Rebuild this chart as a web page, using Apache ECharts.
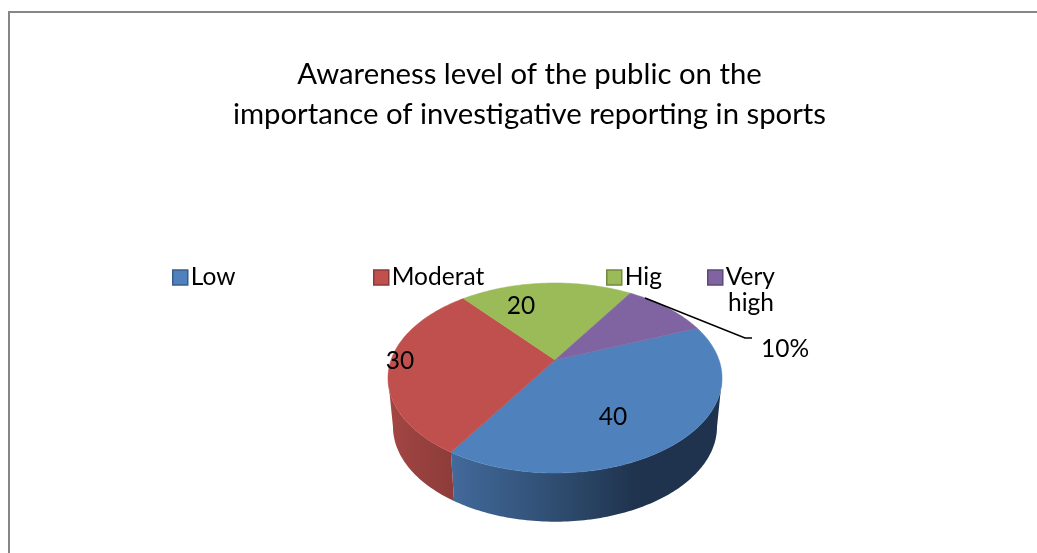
<!DOCTYPE html>
<html><head><meta charset="utf-8">
<style>html,body{margin:0;padding:0;background:#fff}#c{width:1037px;height:553px}</style>
<script src="https://cdn.jsdelivr.net/npm/echarts@6/dist/echarts.min.js"></script>
</head><body><div id="c"></div>
<script>
const titleLines = ['Awareness level of the public on the', 'importance of investigative reporting in sports'];
const categories = ['Low', 'Moderat', 'Hig', 'Very high'];
const values = [40, 30, 20, 10];
const valueLabels = ['40', '30', '20', '10%'];
const faceColors = ['#4F81BD', '#C0504D', '#9BBB59', '#8064A2'];
const borderColors = ['#385D8A', '#8C3836', '#71893F', '#5C4776'];

const FONT = 'Lato, Carlito, Calibri, sans-serif';
const START = 68.2, CX = 555, VY = 360, C = 0.1895, A = 91.6, D = 164, DEPTH = 48.7, BOTTOM_SCALE = 0.97;
const total = values.reduce((a, b) => a + b, 0);
const LEFT_T = 259.1, RIGHT_T = 100.9;

function topRim(t) {
  const r = t * Math.PI / 180, X = Math.sin(r), Y = Math.cos(r), w = 1 + C * Y;
  return [CX + D * X / w, VY - A * Y / w];
}
function bottomRim(t) {
  const p = topRim(t);
  return [CX + (p[0] - CX) * BOTTOM_SCALE, p[1] + DEPTH];
}
function arc(fn, a, b) {
  const n = Math.max(2, Math.ceil(Math.abs(b - a))), pts = [];
  for (let i = 0; i <= n; i++) pts.push(fn(a + (b - a) * i / n));
  return pts;
}
function sliceRange(i) {
  let a = START;
  for (let k = 0; k < i; k++) a += values[k] / total * 360;
  return [a, a + values[i] / total * 360];
}
const blueWall = [[0, '#426a9c'], [0.45, '#2c4869'], [0.68, '#1f334e'], [1, '#1f334e']];
const redWall = [[0, '#a34643'], [1, '#8c3c3a']];
function renderSlice(params) {
  const i = params.seriesIndex, r = sliceRange(i), kids = [];
  const a = Math.max(r[0], RIGHT_T), b = Math.min(r[1], LEFT_T);
  if (b > a) {
    const tp = arc(topRim, a, b), bt = arc(bottomRim, a, b).reverse();
    const stops = (i === 0 ? blueWall : redWall).map(s => ({ offset: s[0], color: s[1] }));
    kids.push({
      type: 'polygon', shape: { points: tp.concat(bt) },
      style: { fill: new echarts.graphic.LinearGradient(0, 0, 1, 0, stops) }
    });
  }
  return { type: 'group', children: kids.concat([{
    type: 'polygon', shape: { points: [[CX, VY]].concat(arc(topRim, r[0], r[1])) },
    style: { fill: faceColors[i], stroke: faceColors[i], lineWidth: 0.5 }
  }]) };
}
const labelSpots = [[613, 417], [400, 361], [521, 306], [785, 349]];
const legendSpots = [167, 368, 601, 702];

const chart = echarts.init(document.getElementById('c'), null, { renderer: 'canvas' });
chart.setOption({
  animation: false,
  backgroundColor: '#fff',
  legend: categories.map((name, i) => ({
    left: legendSpots[i], top: 260, orient: 'horizontal', selectedMode: false,
    itemWidth: 15, itemHeight: 15, itemGap: 0, icon: 'rect',
    data: [{ name, itemStyle: { color: faceColors[i], borderColor: borderColors[i], borderWidth: 1.5 } }],
    formatter: n => n.split(' ')[0],
    textStyle: { fontFamily: FONT, fontSize: 24.5, color: '#000', padding: [0, 0, 0, -2] }
  })),
  graphic: [
    { type: 'rect', silent: true, shape: { x: 9, y: 12, width: 1100, height: 700 },
      style: { fill: 'none', stroke: '#868686', lineWidth: 2 }, z: -1 },
    { type: 'text', style: { x: 529.5, y: 75, text: titleLines[0], font: '29.3px ' + FONT, fill: '#000', textAlign: 'center', textVerticalAlign: 'middle' } },
    { type: 'text', style: { x: 529.5, y: 115, text: titleLines[1], font: '29.3px ' + FONT, fill: '#000', textAlign: 'center', textVerticalAlign: 'middle' } },
    { type: 'text', style: { x: 751, y: 303, text: categories[3].split(' ')[1], font: '24.5px ' + FONT, fill: '#000', textAlign: 'center', textVerticalAlign: 'middle' } },
    { type: 'polyline', shape: { points: [[645, 298], [745, 338], [752, 338]] }, style: { fill: 'none', stroke: '#000', lineWidth: 1.6 }, z: 10 },
    ...valueLabels.map((t, i) => ({ type: 'text', z: 11, style: { x: labelSpots[i][0], y: labelSpots[i][1], text: t, font: '24.5px ' + FONT, fill: '#000', textAlign: 'center', textVerticalAlign: 'middle' } }))
  ],
  series: categories.map((name, i) => ({
    type: 'custom', name, coordinateSystem: 'none', renderItem: renderSlice, silent: true,
    itemStyle: { color: faceColors[i] },
    data: [values[i]]
  }))
});
</script></body></html>
